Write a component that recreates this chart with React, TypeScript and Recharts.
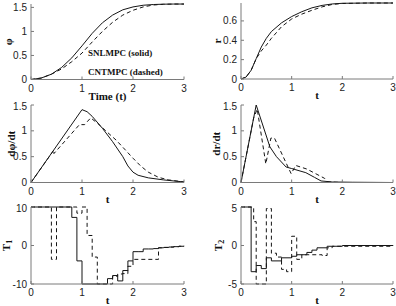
import { Label, Line, LineChart, ReferenceDot, XAxis, YAxis } from "recharts";

// time ticks shared by every panel
const xTicks = [0, 1, 2, 3];

// phi (rad)
const phiTime = [0, 0.2, 0.4, 0.6, 0.8, 1.0, 1.2, 1.4, 1.6, 1.8, 2.0, 2.2, 2.4, 2.6, 2.8, 3.0];
const phiSolid = [0, 0.03, 0.11, 0.25, 0.45, 0.7, 0.96, 1.18, 1.34, 1.45, 1.51, 1.545, 1.56, 1.567, 1.57, 1.57];
const phiDashed = [0, 0.03, 0.11, 0.22, 0.37, 0.55, 0.78, 1.0, 1.19, 1.34, 1.44, 1.51, 1.55, 1.565, 1.57, 1.57];

// r
const rTime = [0, 0.1, 0.2, 0.3, 0.4, 0.5, 0.6, 0.8, 1.0, 1.2, 1.4, 1.6, 1.8, 2.0, 2.5, 3.0];
const rSolid = [0, 0.02, 0.09, 0.21, 0.33, 0.42, 0.49, 0.58, 0.645, 0.695, 0.735, 0.76, 0.775, 0.782, 0.785, 0.785];
const rDashed = [0, 0.02, 0.09, 0.21, 0.29, 0.35, 0.42, 0.54, 0.62, 0.67, 0.71, 0.745, 0.77, 0.78, 0.785, 0.785];

// dphi/dt
const dphiSolidT = [0, 1.0, 1.1, 1.2, 1.4, 1.6, 1.8, 1.9, 2.0, 2.1, 2.3, 2.6, 3.0];
const dphiSolid = [0, 1.41, 1.37, 1.28, 1.05, 0.79, 0.5, 0.32, 0.2, 0.14, 0.09, 0.05, 0.01];
const dphiDashedT = [0, 0.45, 0.45, 0.95, 1.05, 1.17, 1.3, 1.5, 1.67, 1.85, 2.0, 2.15, 2.3, 2.5, 2.7, 3.0];
const dphiDashed = [0, 0.63, 0.56, 1.12, 1.12, 1.25, 1.15, 0.97, 0.82, 0.63, 0.47, 0.32, 0.2, 0.1, 0.05, 0.01];

// dr/dt
const drSolidT = [0, 0.3, 0.57, 0.7, 0.89, 1.0, 1.28, 1.45, 1.58, 1.8, 2.2, 3.0];
const drSolid = [0, 1.5, 0.69, 0.5, 0.3, 0.27, 0.19, 0.1, 0.03, 0.01, 0.005, 0];
const drDashedT = [0, 0.25, 0.32, 0.49, 0.59, 0.66, 0.99, 1.08, 1.3, 1.65, 1.72, 2.0, 3.0];
const drDashed = [0, 1.25, 1.42, 0.36, 0.86, 0.86, 0.17, 0.33, 0.26, 0.08, 0.01, 0, 0];

// T1 (stairs)
const t1SolidT = [0, 0.8, 0.9, 1.0, 1.5, 1.6, 1.7, 1.8, 1.9, 2.0, 2.1, 2.2, 2.3, 2.4, 2.5, 2.6, 2.7, 2.8, 2.9, 3.0];
const t1Solid = [10, 7.3, -4, -10, -8.6, -7.8, -9.2, -6.5, -4, -1.6, -1.6, -0.9, -0.9, -0.8, -0.6, -0.5, -0.4, -0.3, -0.2, -0.1];
const t1DashedT = [0, 0.4, 0.5, 0.9, 1.0, 1.1, 1.2, 1.3, 1.6, 1.7, 1.8, 1.9, 2.0, 2.5, 2.6, 2.7, 2.8, 2.9, 3.0];
const t1Dashed = [10, -3.6, 10, 8.4, 10, 2.6, -3, -10, -8, -7.4, -7.3, -5.4, -3.6, -0.6, -0.5, -0.4, -0.3, -0.2, -0.1];

// T2 (stairs)
const t2SolidT = [0, 0.2, 0.3, 0.4, 0.5, 0.6, 0.8, 1.0, 1.1, 1.3, 1.4, 1.5, 1.7, 2.0, 3.0];
const t2Solid = [5, -3.4, -2.6, -3, -1.6, -2, -1.6, -1.4, -1.2, -0.9, -0.6, -0.3, -0.1, 0, 0];
const t2DashedT = [0, 0.25, 0.3, 0.5, 0.6, 0.7, 0.8, 0.9, 1.0, 1.1, 1.2, 1.5, 1.6, 1.7, 1.8, 3.0];
const t2Dashed = [5, 3.1, -5, 4.8, -1, -1.5, -3.1, -3.4, 1.2, -1.8, -1.2, -1.2, -1.3, -0.3, -0.1, 0];

const pts = (ts: number[], vs: number[]) => ts.map((t, i) => ({ t, v: vs[i] }));

const AXIS = "#7a7a7a";
const INK = "#151515";
const tickFont = { fontSize: 10, fontFamily: "Liberation Sans, Arial, sans-serif", fill: "#222" };
const labFont = { fontSize: 11, fontFamily: "Liberation Serif, Times New Roman, serif", fontWeight: 700, fill: "#111" };

const ML = 30;
const MT = 4;
const MB = 24;
const MR = 4;

interface PanelProps {
  left: number;
  top: number;
  w: number;
  h: number;
  domain: [number, number];
  yTicks: number[];
  yLabel: React.ReactNode;
  yLabelGap: number;
  xLabel: string;
  solid: { t: number; v: number }[];
  dashed: { t: number; v: number }[];
  step?: boolean;
  children?: React.ReactNode;
}

function Panel(p: PanelProps) {
  const type = p.step ? "stepAfter" : "linear";
  return (
    <div style={{ position: "absolute", left: p.left - ML, top: p.top - MT }}>
      <LineChart
        width={p.w + ML + MR}
        height={p.h + MT + MB}
        margin={{ top: MT, right: MR, left: 0, bottom: 0 }}
      >
        <XAxis
          xAxisId="b"
          type="number"
          dataKey="t"
          domain={[0, 3]}
          ticks={xTicks}
          height={MB}
          stroke={AXIS}
          tickSize={-3}
          tickMargin={8}
          tick={tickFont}
        >
          <Label
            content={(props: any) => {
              const vb = props.viewBox;
              return (
                <text x={vb.x + vb.width / 2} y={vb.y + 16} textAnchor="middle" dominantBaseline="central" {...labFont}>
                  {p.xLabel}
                </text>
              );
            }}
          />
        </XAxis>
        <XAxis
          xAxisId="top"
          orientation="top"
          type="number"
          dataKey="t"
          domain={[0, 3]}
          ticks={xTicks}
          height={0}
          stroke={AXIS}
          tickSize={-3}
          tickFormatter={() => ""}
        />
        <YAxis
          yAxisId="l"
          type="number"
          domain={p.domain}
          ticks={p.yTicks}
          width={ML}
          stroke={AXIS}
          tickSize={-3}
          tickMargin={7}
          tick={tickFont}
        >
          <Label
            content={(props: any) => {
              const vb = props.viewBox;
              const x = vb.x + vb.width - p.yLabelGap;
              const y = vb.y + vb.height / 2;
              return (
                <text transform={`translate(${x},${y}) rotate(-90)`} textAnchor="middle" dominantBaseline="central" {...labFont}>
                  {p.yLabel}
                </text>
              );
            }}
          />
        </YAxis>
        <YAxis
          yAxisId="r"
          orientation="right"
          type="number"
          domain={p.domain}
          ticks={p.yTicks}
          width={0}
          stroke={AXIS}
          tickSize={-3}
          tickFormatter={() => ""}
        />
        <Line
          xAxisId="b"
          yAxisId="l"
          data={p.solid}
          dataKey="v"
          type={type}
          stroke={INK}
          strokeWidth={1}
          dot={false}
          isAnimationActive={false}
        />
        <Line
          xAxisId="b"
          yAxisId="l"
          data={p.dashed}
          dataKey="v"
          type={type}
          stroke={INK}
          strokeWidth={1}
          strokeDasharray="4 3"
          dot={false}
          isAnimationActive={false}
        />
        {p.children}
      </LineChart>
    </div>
  );
}

const sub = (base: string, s: string) => (
  <>
    <tspan>{base}</tspan>
    <tspan dy={3} fontSize={8}>{s}</tspan>
  </>
);

export default function App() {
  const legendStyle = { fontSize: 9, fontFamily: "Liberation Serif, Times New Roman, serif", fontWeight: 700, fill: "#111" };
  return (
    <div style={{ position: "absolute", left: 0, top: 0, width: 396, height: 306, background: "#fff" }}>
      <Panel
        left={31}
        top={3.5}
        w={153}
        h={75.5}
        domain={[0, 1.5708]}
        yTicks={[0, 0.5, 1, 1.5]}
        yLabel="φ"
        yLabelGap={23}
        xLabel="Time (t)"
        solid={pts(phiTime, phiSolid)}
        dashed={pts(phiTime, phiDashed)}
      >
        <ReferenceDot xAxisId="b" yAxisId="l" x={1.12} y={0.56} r={0} fill="none" stroke="none">
          <Label value="SNLMPC (solid)" position="right" offset={0} style={legendStyle} />
        </ReferenceDot>
        <ReferenceDot xAxisId="b" yAxisId="l" x={1.12} y={0.17} r={0} fill="none" stroke="none">
          <Label value="CNTMPC (dashed)" position="right" offset={0} style={legendStyle} />
        </ReferenceDot>
      </Panel>
      <Panel
        left={241}
        top={3}
        w={152}
        h={76}
        domain={[0, 0.785]}
        yTicks={[0, 0.2, 0.4, 0.6]}
        yLabel="r"
        yLabelGap={24}
        xLabel="t"
        solid={pts(rTime, rSolid)}
        dashed={pts(rTime, rDashed)}
      />
      <Panel
        left={31}
        top={104.5}
        w={153}
        h={77.5}
        domain={[0, 1.5]}
        yTicks={[0, 0.5, 1, 1.5]}
        yLabel="dφ/dt"
        yLabelGap={20}
        xLabel="t"
        solid={pts(dphiSolidT, dphiSolid)}
        dashed={pts(dphiDashedT, dphiDashed)}
      />
      <Panel
        left={241}
        top={104.5}
        w={152}
        h={77.5}
        domain={[0, 1.5]}
        yTicks={[0, 0.5, 1, 1.5]}
        yLabel="dr/dt"
        yLabelGap={25}
        xLabel="t"
        solid={pts(drSolidT, drSolid)}
        dashed={pts(drDashedT, drDashed)}
      />
      <Panel
        left={31}
        top={207}
        w={153}
        h={77}
        domain={[-10, 10]}
        yTicks={[-10, 0, 10]}
        yLabel={sub("T", "1")}
        yLabelGap={25}
        xLabel="t"
        solid={pts(t1SolidT, t1Solid)}
        dashed={pts(t1DashedT, t1Dashed)}
        step
      />
      <Panel
        left={241}
        top={207}
        w={152}
        h={77}
        domain={[-5, 5]}
        yTicks={[-5, 0, 5]}
        yLabel={sub("T", "2")}
        yLabelGap={23}
        xLabel="t"
        solid={pts(t2SolidT, t2Solid)}
        dashed={pts(t2DashedT, t2Dashed)}
        step
      />
    </div>
  );
}
